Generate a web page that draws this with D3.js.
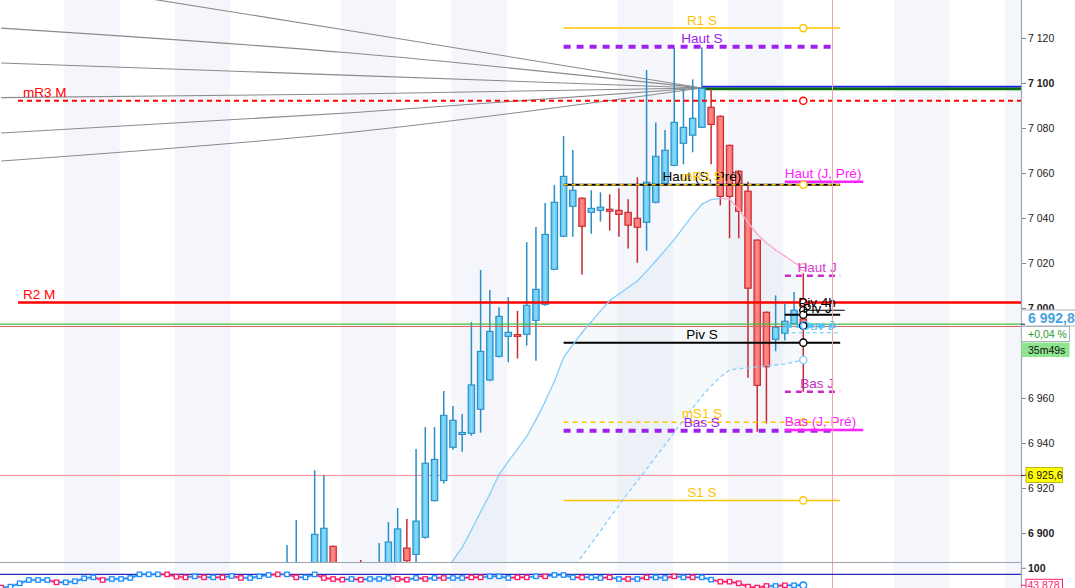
<!DOCTYPE html>
<html><head><meta charset="utf-8">
<script src="https://cdn.jsdelivr.net/npm/d3@7"></script>
<style>body{margin:0;background:#fff;}svg{display:block;font-family:"Liberation Sans",Arial,sans-serif;}</style>
</head><body><svg id="c" width="1075" height="588"></svg>
<script>
// ---------------- DATA ----------------
const firstCandle = 31;           // index of first candle listed below
const lastIndex = 87;             // index of the current candle
const candleOpen  = [6870,6872,6875,6880,6884,6894.1,6878,6875,6886,6876,6878,6884,6885,6893.3,6890.5,6898.1,6914.4,6923.3,6938.1,6943.8,6944.3,6955,6968,6978.5,6987.4,6988.2,6988.3,6994.5,7001.6,7017.2,7031.9,7045.2,7048.8,7042.5,7043.4,7043.9,7043.4,7042.5,7039.9,7038.1,7047,7055.4,7063.4,7073.2,7076.8,7080.3,7089.2,7085.2,7072.3,7060.8,7051.9,7030.2,6998.1,6986.1,6988.8,6993,6995.1];
const candleHigh  = [6894.7,6905.8,6885,6927.9,6925.8,6894.5,6884,6883,6888,6885,6895.6,6904.9,6911.1,6906.2,6937.3,6947.1,6947.1,6963.1,6956.4,6952.9,6993.8,7016.9,7008,7000.3,7004.9,6998.7,7029.3,7036,7046.7,7054.7,7076.4,7070.2,7049.2,7052.3,7051.4,7050.5,7053.2,7048.3,7058.1,7105.8,7082.5,7079.1,7115.6,7097.2,7101.6,7115.9,7097.2,7085.6,7072.6,7061.2,7056.1,7030.5,6998.5,7005.6,7001.8,7007.1,7015.4];
const candleLow   = [6865,6868,6870,6876,6880,6874,6870,6868,6872,6870,6874,6880,6880,6887.2,6884,6897.5,6914,6922,6937,6936.1,6943.2,6944.6,6967.5,6978,6975.9,6977.5,6983.3,6976.6,7001,7016.8,7031.5,7031.7,7014.9,7033,7038.4,7034.4,7031.7,7026.4,7020.1,7025.5,7046.5,7055,7063,7063.9,7069.2,7080,7063.9,7045.6,7031,7031,6969,6945,6948.7,6980.8,6985.6,6992.8,6962.8];
const candleClose = [6884,6880,6882,6899.4,6902.1,6878,6875,6880,6876,6881,6886,6896,6901.8,6887.7,6905.3,6931,6932.7,6952.3,6950.1,6944.7,6965.8,6980.7,6989.6,6996.3,6989.2,6987.4,7001.2,7008.3,7032.7,7047,7058.5,7052.3,7036.3,7044.3,7044.8,7043,7041.6,7036.8,7035.9,7055.9,7067.4,7070.1,7082.5,7080.3,7084.3,7097.6,7081.6,7049.6,7049.6,7043,7008.8,6965.6,6973.9,6991.4,6994.1,6999,6992.8];

const bandStarts = [7,19,37,49,67,79,97,109];   // session shading (candle index)

const envFirst = 48;
const envUpper = [6881.3,6887.8,6893.6,6901.3,6909.3,6917.3,6926,6931.8,6937.3,6942.9,6950.4,6958.4,6967.3,6978,6983.6,6989.1,6993.8,6998.7,7003.3,7006.2,7009.1,7012,7016.4,7020.9,7025.6,7030.4,7035.8,7041.3,7046.2,7048.2,7048.7,7048.4,7043.8,7038,7032.9,7028.9,7025.8,7023.1,7020.2,7018.2];
const envLower = [6810,6818,6825,6832,6838,6844,6850,6855,6860,6864,6868,6872,6876,6880,6884.4,6889.8,6895.3,6900.9,6906.7,6912.2,6917.8,6923.1,6928.4,6933.8,6939.1,6944.7,6950.2,6955.6,6960.7,6965.3,6969.3,6972.4,6973.1,6973.3,6973.8,6974.2,6974.7,6975.1,6976,6976.9];

const fanIdx = [0,38,76];
const fanLines = [
  [7124.4,7113.3,7097.8],
  [7108.9,7103.4,7097.8],
  [7093.5,7095.1,7097.8],
  [7077.8,7086.8,7097.8],
  [7065.3,7078.1,7097.8],
  [7148,7123.1,7097.8]
];
const trendBluePrice = 7098.4, trendGreenPrice = 7097.4, trendStart = 76;

const levelNames  = ["R1 S","Haut S","mR3 M","Haut (S, Pré)","mR3 S","Haut (J, Pré)","Haut J","R2 M","Piv 4h","Piv J","Ouv J","Ouv 4h","Piv S","Bas J","mS1 S","Bas S","Bas (J, Pré)","S1 S"];
const levelPrices = [7124.4,7116.1,7092.1,7054.8,7054.8,7056.1,7014.3,7002.4,6999.0,6997.0,6992.1,6989.0,6984.6,6962.8,6949.2,6945.5,6945.8,6914.5];

const lastPrice = 6992.8, prevLine = 6991.8, refPrice = 6925.6;
const changeText = "+0,04 %", timerText = "35m49s";
const priceTicks = [6900,6920,6940,6960,6980,7000,7020,7040,7060,7080,7100,7120];

const oscValues = [36.1,39.4,50.4,61.4,61.4,61.4,53.7,53.7,57.0,66.9,
  70.2,61.4,64.7,64.7,68.0,80,80,80,80,72.4,
  70.2,73.5,70.2,70.2,70.2,74.6,68.0,68.0,73.5,78,
  80,80,70.2,70.2,80,68.0,64.7,62.5,64.7,62.5,
  64.7,64.7,68.0,64.7,62.5,68.0,64.7,68.0,68.0,68.0,
  68.0,70.2,70.2,73.5,73.5,68.0,70.2,70.2,73.5,73.5,
  78,78,70.2,70.2,70.2,68.0,70.2,64.7,64.7,64.7,
  70.2,70.2,68.0,73.5,70.2,70.2,70.2,62.5,55.9,55.9,
  50.4,39.4,36.1,41.6,41.6,43.9,43.9,43.878];
const oscDir = "duuuuuduuuuduuuuuudddudududuuududuudddudUuuddududuudduuuddudUuuduudududuududuudddddduduud".toLowerCase().split("");
const oscLevel = 80, oscTop = 100;

// ---------------- CHART ----------------
const svg = d3.select("#c");
const plotR = 1021, plotB = 562, H = 588;
const x = d3.scaleLinear().domain([0,87]).range([1.2,803.3]);
const y = d3.scaleLinear().domain([6900,7120]).range([533,38]);
const yi = d3.scaleLinear().domain([100,43.878]).range([568.3,585.3]);
const step = x(1)-x(0);
const loc = d3.formatLocale({decimal:",",thousands:" ",grouping:[3],currency:["",""]});
const fmt0 = loc.format(",.0f"), fmt1 = loc.format(",.1f");

const defs = svg.append("defs");
defs.append("clipPath").attr("id","cp").append("rect").attr("x",0).attr("y",0).attr("width",plotR).attr("height",plotB);
defs.append("clipPath").attr("id","ci").append("rect").attr("x",0).attr("y",plotB).attr("width",plotR).attr("height",H-plotB);
defs.append("clipPath").attr("id","call").append("rect").attr("x",0).attr("y",0).attr("width",plotR).attr("height",H);
const gBlue = defs.append("linearGradient").attr("id","gb");
gBlue.append("stop").attr("offset","0").attr("stop-color","#4fc0f0");
gBlue.append("stop").attr("offset","0.5").attr("stop-color","#8ddcfb");
gBlue.append("stop").attr("offset","1").attr("stop-color","#4fc0f0");
const gRed = defs.append("linearGradient").attr("id","gr");
gRed.append("stop").attr("offset","0").attr("stop-color","#f56565");
gRed.append("stop").attr("offset","0.5").attr("stop-color","#ff8c8c");
gRed.append("stop").attr("offset","1").attr("stop-color","#f56565");

// bands
svg.append("g").attr("clip-path","url(#call)").selectAll("rect").data(bandStarts).join("rect")
  .attr("x",d=>x(d-0.15)).attr("width",6*step).attr("y",0).attr("height",H).attr("fill","#f4f6fb");

const main = svg.append("g").attr("clip-path","url(#cp)");

// envelope fill
const envIdx = envUpper.map((_,k)=>envFirst+k);
main.append("path").datum(envIdx)
  .attr("d",d3.area().x(i=>x(i)).y0(i=>y(envLower[i-envFirst])).y1(i=>y(envUpper[i-envFirst])))
  .attr("fill","rgba(205,225,242,0.2)");

// fan lines
fanLines.forEach(vals=>{
  main.append("path").datum(vals.map((v,k)=>[fanIdx[k],v]))
    .attr("d",d3.line().x(d=>x(d[0])).y(d=>y(d[1])).curve(d3.curveNatural))
    .attr("fill","none").attr("stroke","#8a8a8a").attr("stroke-width",1.1);
});
// trend lines after convergence
main.append("line").attr("x1",x(trendStart)).attr("x2",plotR).attr("y1",y(trendGreenPrice)).attr("y2",y(trendGreenPrice)).attr("stroke","#0a6e0a").attr("stroke-width",3);
main.append("line").attr("x1",x(trendStart)).attr("x2",plotR).attr("y1",y(trendBluePrice)).attr("y2",y(trendBluePrice)).attr("stroke","#1a1aff").attr("stroke-width",1.5);

// reference horizontal lines
main.append("line").attr("x1",0).attr("x2",plotR).attr("y1",y(refPrice)).attr("y2",y(refPrice)).attr("stroke","#ff8a8a").attr("stroke-width",1);

// candles
const cIdx = candleOpen.map((_,k)=>firstCandle+k);
const cg = main.append("g");
cIdx.forEach((i,k)=>{
  const o=candleOpen[k],h=candleHigh[k],l=candleLow[k],c=candleClose[k];
  const up = c>=o;
  const stroke = up?"#2a8dc5":"#c8282d";
  cg.append("line").attr("x1",x(i)).attr("x2",x(i)).attr("y1",y(h)).attr("y2",y(l)).attr("stroke",stroke).attr("stroke-width",1.5);
  const top = y(Math.max(o,c)), bot = y(Math.min(o,c));
  cg.append("rect").attr("x",x(i)-3.2).attr("width",6.4).attr("y",top).attr("height",Math.max(bot-top,1.2))
    .attr("fill",up?"url(#gb)":"url(#gr)").attr("stroke",stroke).attr("stroke-width",1.1);
});

// current price lines
main.append("line").attr("x1",0).attr("x2",plotR).attr("y1",y(lastPrice)).attr("y2",y(lastPrice)).attr("stroke","#3cc23c").attr("stroke-width",1.3);
main.append("line").attr("x1",0).attr("x2",plotR).attr("y1",y(prevLine)).attr("y2",y(prevLine)).attr("stroke","#e05a5a").attr("stroke-width",1);

// level styles
const GOLD="#ffc400", PURP="#a020f0", RED="#ff0000", MAG="#ff22ff", DMAG="#c829c8", CYAN="#4fc3f7";
const styles = {
  "R1 S":{c:GOLD,w:1.5,a:61,b:91,lab:"w"},
  "Haut S":{c:PURP,w:4,dash:"7,6",a:61,b:90.5,lab:"w"},
  "mR3 M":{c:RED,w:2,dash:"5,4",px:18,lab:"m"},
  "Haut (S, Pré)":{c:"#000",w:2,a:61,b:91,lab:"w"},
  "mR3 S":{c:GOLD,w:1.4,dash:"4,4",a:61,b:91,lab:"w"},
  "Haut (J, Pré)":{c:MAG,w:2.5,a:85,b:93.5,lab:"p"},
  "Haut J":{c:DMAG,w:2.5,dash:"6,5",a:85,b:91,lab:"d",tc:"#d040d0"},
  "R2 M":{c:RED,w:2.5,px:18,lab:"m"},
  "Piv 4h":{c:"#000",w:1,a:87,b:91.5,lab:"d",dy:-3.5},
  "Piv J":{c:"#000",w:2,a:85,b:91,lab:"d",dy:-2},
  "Ouv J":{c:CYAN,w:4,dash:"7,4",a:85,b:91,lab:"d",dy:4.5},
  "Ouv 4h":{c:"#5ec8f0",w:1,dash:"4,3",a:85,b:91,lab:null},
  "Piv S":{c:"#000",w:2,a:61,b:91,lab:"w"},
  "Bas J":{c:DMAG,w:2.5,dash:"6,5",a:85,b:91,lab:"d",tc:"#c030c0"},
  "mS1 S":{c:GOLD,w:1.5,dash:"5,4",a:61,b:91,lab:"w",dy:-4},
  "Bas S":{c:PURP,w:4,dash:"7,6",a:61,b:90.5,lab:"w"},
  "Bas (J, Pré)":{c:MAG,w:2.5,a:85,b:93.5,lab:"p"},
  "S1 S":{c:GOLD,w:1.5,a:61,b:91,lab:"w"}
};
const lv = main.append("g");
levelNames.forEach((n,k)=>{
  const s=styles[n], yy=y(levelPrices[k]);
  const x1 = s.px!==undefined? s.px : x(s.a);
  const x2 = s.px!==undefined? plotR : x(s.b);
  lv.append("line").attr("x1",x1).attr("x2",x2).attr("y1",yy).attr("y2",yy)
    .attr("stroke",s.c).attr("stroke-width",s.w).attr("stroke-dasharray",s.dash||null);
});

// moving average envelope lines
const upPts = envIdx.map(i=>[i,envUpper[i-envFirst]]);
for(let k=1;k<upPts.length;k++){
  const a=upPts[k-1], b=upPts[k];
  main.append("line").attr("x1",x(a[0])).attr("y1",y(a[1])).attr("x2",x(b[0])).attr("y2",y(b[1]))
    .attr("stroke", b[1]>=a[1]?"#87cefa":"#ffa6c9").attr("stroke-width",1.3).attr("stroke-linecap","round");
}
main.append("path").datum(envIdx).attr("d",d3.line().x(i=>x(i)).y(i=>y(envLower[i-envFirst])))
  .attr("fill","none").attr("stroke","#87cefa").attr("stroke-width",1.3).attr("stroke-dasharray","4,3");

// markers on current candle
const markerOf = {"R1 S":GOLD,"mR3 M":RED,"mR3 S":GOLD,"R2 M":RED,"Piv 4h":"#000","Piv J":"#000","Ouv J":"#000","Piv S":"#000","mS1 S":GOLD,"S1 S":GOLD};
const mk = main.append("g");
levelNames.forEach((n,k)=>{
  if(!markerOf[n]) return;
  mk.append("circle").attr("cx",x(lastIndex)).attr("cy",y(levelPrices[k])).attr("r",3.6)
    .attr("fill","#fff").attr("stroke",markerOf[n]).attr("stroke-width",1.4);
});
mk.append("circle").attr("cx",x(lastIndex)).attr("cy",y(envUpper[envUpper.length-1])).attr("r",3.6).attr("fill","#fff").attr("stroke","#ffa6c9").attr("stroke-width",1.4);
mk.append("circle").attr("cx",x(lastIndex)).attr("cy",y(envLower[envLower.length-1])).attr("r",3.6).attr("fill","#fff").attr("stroke","#87cefa").attr("stroke-width",1.4);

// labels
const lab = svg.append("g").attr("font-size",13.5);
levelNames.forEach((n,k)=>{
  const s=styles[n]; if(!s.lab) return;
  const yy=y(levelPrices[k]) + (s.dy!==undefined?s.dy:-3.5);
  let xx, anchor="start";
  if(s.lab==="w"){xx=x(76); anchor="middle";}
  else if(s.lab==="d"){xx=x(88.5); anchor="middle";}
  else if(s.lab==="p"){xx=x(85);}
  else {xx=23;}
  lab.append("text").attr("x",xx).attr("y",yy).attr("text-anchor",anchor)
    .attr("fill",s.tc||s.c).text(n);
});

// vertical time marker
svg.append("line").attr("x1",832.5).attr("x2",832.5).attr("y1",0).attr("y2",H).attr("stroke","#f4a3a3").attr("stroke-width",1);

// ---------- oscillator panel ----------
const ind = svg.append("g").attr("clip-path","url(#ci)");
ind.append("line").attr("x1",0).attr("x2",plotR).attr("y1",yi(oscLevel)).attr("y2",yi(oscLevel)).attr("stroke","#2a2ab8").attr("stroke-width",1.3);
const BL="#1a8cff", PK="#ff1a66";
for(let i=1;i<oscValues.length;i++){
  const col = oscDir[i]==="u"?BL:PK;
  ind.append("line").attr("x1",x(i-1)).attr("y1",yi(oscValues[i-1])).attr("x2",x(i)).attr("y2",yi(oscValues[i]))
    .attr("stroke",col).attr("stroke-width",3).attr("stroke-opacity",0.35);
  ind.append("line").attr("x1",x(i-1)).attr("y1",yi(oscValues[i-1])).attr("x2",x(i)).attr("y2",yi(oscValues[i]))
    .attr("stroke",col).attr("stroke-width",1.4);
}
oscValues.forEach((v,i)=>{
  const col = oscDir[i]==="u"?BL:PK;
  if(i===lastIndex){
    ind.append("circle").attr("cx",x(i)).attr("cy",yi(v)).attr("r",3.3).attr("fill","#fff").attr("stroke",col).attr("stroke-width",1.4);
  } else {
    ind.append("rect").attr("x",x(i)-2.2).attr("y",yi(v)-2.2).attr("width",4.4).attr("height",4.4)
      .attr("fill","#fff").attr("stroke",col).attr("stroke-width",1.3);
  }
});

// separator
svg.append("line").attr("x1",0).attr("x2",plotR).attr("y1",plotB+0.5).attr("y2",plotB+0.5).attr("stroke","#98a4ae").attr("stroke-width",1.2);

// ---------- right axis ----------
svg.append("rect").attr("x",plotR).attr("y",0).attr("width",1075-plotR).attr("height",H).attr("fill","#fff");
const axis = d3.axisRight(y).tickValues(priceTicks).tickSize(5).tickPadding(2).tickFormat(fmt0);
const gA = svg.append("g").attr("transform",`translate(${plotR},0)`).call(axis);
gA.select(".domain").remove();
gA.selectAll(".tick line").attr("stroke","#7d8a96");
gA.selectAll(".tick text").attr("font-size",10.5).attr("fill","#222").attr("font-family","'Liberation Sans',Arial,sans-serif")
  .attr("font-weight",d=>d%100===0?"bold":"normal");
svg.append("line").attr("x1",plotR+0.5).attr("x2",plotR+0.5).attr("y1",0).attr("y2",H).attr("stroke","#9aa6b0").attr("stroke-width",1.2);

// oscillator axis
const gI = svg.append("g").attr("transform",`translate(${plotR},0)`);
gI.append("line").attr("x1",0).attr("x2",5).attr("y1",yi(oscTop)).attr("y2",yi(oscTop)).attr("stroke","#7d8a96");
gI.append("text").attr("x",7).attr("y",yi(oscTop)).attr("dy","0.35em").attr("font-size",10.5).attr("font-weight","bold").attr("fill","#222").text(oscTop);

// reference price tag
svg.append("line").attr("x1",plotR).attr("x2",plotR+5).attr("y1",y(refPrice)).attr("y2",y(refPrice)).attr("stroke","#333");
svg.append("rect").attr("x",plotR+5).attr("y",y(refPrice)-8).attr("width",36.5).attr("height",15).attr("fill","#ffff00").attr("stroke","#a8a800").attr("stroke-width",0.8);
svg.append("text").attr("x",plotR+6.5).attr("y",y(refPrice)).attr("dy","0.35em").attr("font-size",10.5).attr("fill","#111").text(fmt1(refPrice));

// last price tags
svg.append("rect").attr("x",plotR+0.5).attr("y",310).attr("width",60).attr("height",16).attr("fill","#fff").attr("stroke","#a9b2ba");
svg.append("text").attr("x",plotR+7).attr("y",318).attr("dy","0.36em").attr("font-size",14).attr("font-weight","bold").attr("fill","#4aa3df").text(fmt1(lastPrice));
svg.append("rect").attr("x",plotR+0.5).attr("y",326.5).attr("width",48).attr("height",15).attr("fill","#fff").attr("stroke","#a9b2ba");
svg.append("text").attr("x",plotR+7).attr("y",334).attr("dy","0.35em").attr("font-size",10.5).attr("fill","#2e9a2e").text(changeText);
svg.append("rect").attr("x",plotR+0.5).attr("y",342.5).attr("width",48).attr("height",14.5).attr("fill","#8fe58f");
svg.append("text").attr("x",plotR+7).attr("y",350).attr("dy","0.35em").attr("font-size",10.5).attr("fill","#111").text(timerText);
svg.append("line").attr("x1",plotR).attr("x2",plotR+4).attr("y1",y(lastPrice)).attr("y2",y(lastPrice)).attr("stroke","#1a3a8a").attr("stroke-width",1.2);

// oscillator value tag
const lastOsc = oscValues[oscValues.length-1];
svg.append("line").attr("x1",plotR).attr("x2",plotR+5).attr("y1",yi(lastOsc)).attr("y2",yi(lastOsc)).attr("stroke",PK);
svg.append("rect").attr("x",plotR+5).attr("y",579.3).attr("width",36.5).attr("height",14).attr("fill","#fff").attr("stroke",PK).attr("stroke-width",1);
svg.append("text").attr("x",plotR+6.5).attr("y",585.5).attr("dy","0.35em").attr("font-size",10.5).attr("fill",PK).text(d3.format(".3f")(lastOsc));
</script></body></html>
